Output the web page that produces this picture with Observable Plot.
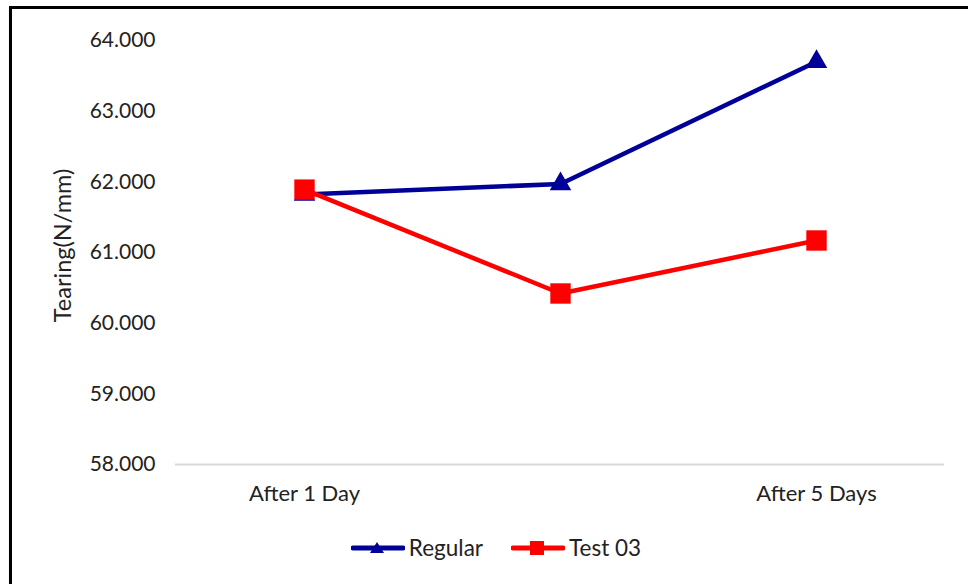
<!DOCTYPE html>
<html>
<head>
<meta charset="utf-8">
<script src="https://cdn.jsdelivr.net/npm/d3@7"></script>
<script src="https://cdn.jsdelivr.net/npm/@observablehq/plot@0.6"></script>
<style>
  html, body { margin: 0; padding: 0; background: #fff; }
  #wrap { position: relative; width: 968px; height: 584px; overflow: hidden; font-family: Lato, "Open Sans", sans-serif; }
  #frame { position: absolute; left: 9px; top: 6px; width: 2000px; height: 2000px; border-left: 3px solid #000; border-top: 3px solid #000; box-shadow: 0 1px 1px #ccc; pointer-events: none; }
  #legend { position: absolute; left: 0; top: 534px; width: 968px; display: flex; justify-content: center; align-items: center; gap: 28px; font-size: 22.5px; color: #222; padding-left: 24px; box-sizing: border-box; }
  .item { display: flex; align-items: center; gap: 4px; }
</style>
</head>
<body>
<div id="wrap">
  <div id="chart"></div>
  <div id="legend"></div>
  <div id="frame"></div>
</div>
<script>
const categories = ["After 1 Day", "", "After 5 Days"];
const regular = [61.82, 61.97, 63.70];
const test03 = [61.89, 60.42, 61.17];
const yTicks = [58, 59, 60, 61, 62, 63, 64];
const seriesNames = ["Regular", "Test 03"];
const seriesColors = ["#000099", "#ff0000"];

const rows = [];
categories.forEach((c, i) => {
  rows.push({cat: c, value: regular[i], series: seriesNames[0]});
  rows.push({cat: c, value: test03[i], series: seriesNames[1]});
});
const reg = rows.filter(d => d.series === "Regular");
const tst = rows.filter(d => d.series === "Test 03");

const chart = Plot.plot({
  width: 968,
  height: 510,
  marginTop: 40,
  marginBottom: 46,
  marginLeft: 175,
  marginRight: 24,
  style: {fontFamily: "Lato, 'Open Sans', sans-serif", fontSize: "21px", color: "#222", background: "transparent"},
  x: {type: "point", domain: categories, padding: 0.5, label: null, tickSize: 0, tickPadding: 22},
  y: {domain: [58, 64], ticks: yTicks, label: null},
  marks: [
    Plot.ruleY([58], {stroke: "#d9d9d9", strokeWidth: 2}),
    Plot.axisX({tickSize: 0, tickPadding: 21, label: null, fontSize: 22}),
    Plot.axisY({ticks: yTicks, tickFormat: d => d3.format(".3f")(d), tickSize: 0, tickPadding: 20, label: null, fontSize: 21}),
    Plot.text(["Tearing(N/mm)"], {frameAnchor: "left", textAnchor: "middle", dx: -112, dy: -7, rotate: -90, fontSize: 23.5, fill: "#222"}),
    Plot.line(reg, {x: "cat", y: "value", stroke: seriesColors[0], strokeWidth: 4.5}),
    Plot.line(tst, {x: "cat", y: "value", stroke: seriesColors[1], strokeWidth: 4.5}),
    Plot.dot(reg, {x: "cat", y: "value", symbol: "triangle", r: 8, fill: seriesColors[0], stroke: "none"}),
    Plot.dot(tst, {x: "cat", y: "value", symbol: "square", r: 11.5, fill: seriesColors[1], stroke: "none"})
  ]
});
document.getElementById("chart").appendChild(chart);

const legend = document.getElementById("legend");
seriesNames.forEach((name, i) => {
  const item = document.createElement("div");
  item.className = "item";
  const sym = i === 0
    ? `<path d="M26,2 L33,13 L19,13 Z" fill="${seriesColors[i]}"/>`
    : `<rect x="19" y="1" width="14" height="14" fill="${seriesColors[i]}"/>`;
  item.innerHTML = `<svg width="54" height="16"><line x1="2" y1="8" x2="52" y2="8" stroke="${seriesColors[i]}" stroke-width="5" stroke-linecap="round"/>${sym}</svg><span>${name}</span>`;
  legend.appendChild(item);
});
</script>
</body>
</html>
